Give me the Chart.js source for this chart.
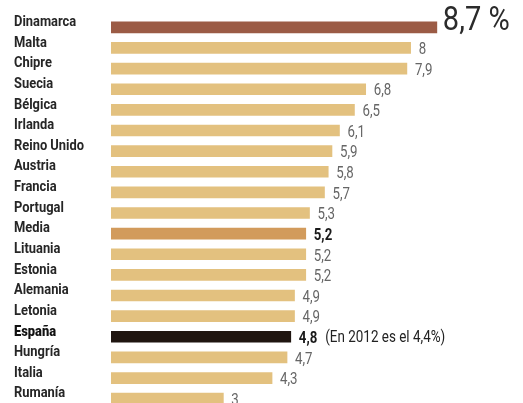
<!DOCTYPE html>
<html>
<head>
<meta charset="utf-8">
<script src="https://cdn.jsdelivr.net/npm/chart.js@4"></script>
<style>
  html, body { margin: 0; padding: 0; background: #fff; overflow: hidden; }
  #wrap { width: 523px; height: 409px; position: relative; }
</style>
</head>
<body>
<div id="wrap"><canvas id="gasto"></canvas></div>
<script>
// paises ordenados de mayor a menor
const countries = ['Dinamarca', 'Malta', 'Chipre', 'Suecia', 'Bélgica', 'Irlanda', 'Reino Unido', 'Austria',
    'Francia', 'Portugal', 'Media', 'Lituania', 'Estonia', 'Alemania', 'Letonia', 'España', 'Hungría', 'Italia', 'Rumanía'];
const values = [8.7, 8, 7.9, 6.8, 6.5, 6.1, 5.9, 5.8, 5.7, 5.3, 5.2, 5.2, 5.2, 4.9, 4.9, 4.8, 4.7, 4.3, 3];
const valueLabels = ['8,7 %', '8', '7,9', '6,8', '6,5', '6,1', '5,9', '5,8', '5,7', '5,3', '5,2', '5,2', '5,2',
    '4,9', '4,9', '4,8', '4,7', '4,3', '3'];
const spainNote = '(En 2012 es el 4,4%)';

const FONT = '"Roboto", "DejaVu Sans Condensed", sans-serif';

const barColors = countries.map(c => {
    if (c == 'Dinamarca') return '#9b5b45';
    if (c == 'Media') return '#d29b5c';
    if (c == 'España') return '#1f1510';
    return '#e3c17f';
});

// texto estrechado a mano (no hay fuente condensada instalada)
function narrowText(ctx, text, x, y, font, color, sx) {
    ctx.save();
    ctx.font = font;
    ctx.fillStyle = color;
    ctx.textAlign = 'left';
    ctx.textBaseline = 'middle';
    ctx.translate(x, y);
    ctx.scale(sx, 1);
    ctx.fillText(text, 0, 0);
    const w = ctx.measureText(text).width * sx;
    ctx.restore();
    return w;
}

const textPlugin = {
    id: 'rowtext',
    afterDatasetsDraw(chart) {
        const ctx = chart.ctx;
        const bars = chart.getDatasetMeta(0).data;
        bars.forEach((bar, i) => {
            const name = countries[i];
            const isSpain = name == 'España';
            narrowText(ctx, name, 14, bar.y - 5, (isSpain ? '900 ' : 'bold ') + '15px ' + FONT,
                isSpain ? '#111' : '#262626', 0.86);

            let x = bar.x + 8;
            if (i == 0) {
                narrowText(ctx, valueLabels[i], x - 2, bar.y - 6, '33px ' + FONT, '#2b2b2b', 0.88);
                return;
            }
            const strong = (name == 'Media' || isSpain);
            const w = narrowText(ctx, valueLabels[i], x, bar.y + 2, (strong ? 'bold ' : '') + '17px ' + FONT,
                strong ? '#1a1a1a' : '#666', 0.78);
            if (isSpain) {
                narrowText(ctx, spainNote, x + w + 8, bar.y + 1, '16px ' + FONT, '#222', 0.84);
            }
        });
    }
};

const chart = new Chart(document.getElementById('gasto'), {
    type: 'bar',
    data: {
        labels: countries,
        datasets: [{
            data: values,
            backgroundColor: barColors,
            borderWidth: 0,
            barThickness: 11
        }]
    },
    options: {
        indexAxis: 'y',
        responsive: true,
        maintainAspectRatio: false,
        animation: false,
        layout: { padding: { left: 111, top: 17, right: 0, bottom: 0 } },
        plugins: { legend: { display: false }, tooltip: { enabled: false } },
        scales: {
            x: { display: false, min: 0, max: 11 },
            y: { display: false }
        }
    },
    plugins: [textPlugin]
});
</script>
</body>
</html>
